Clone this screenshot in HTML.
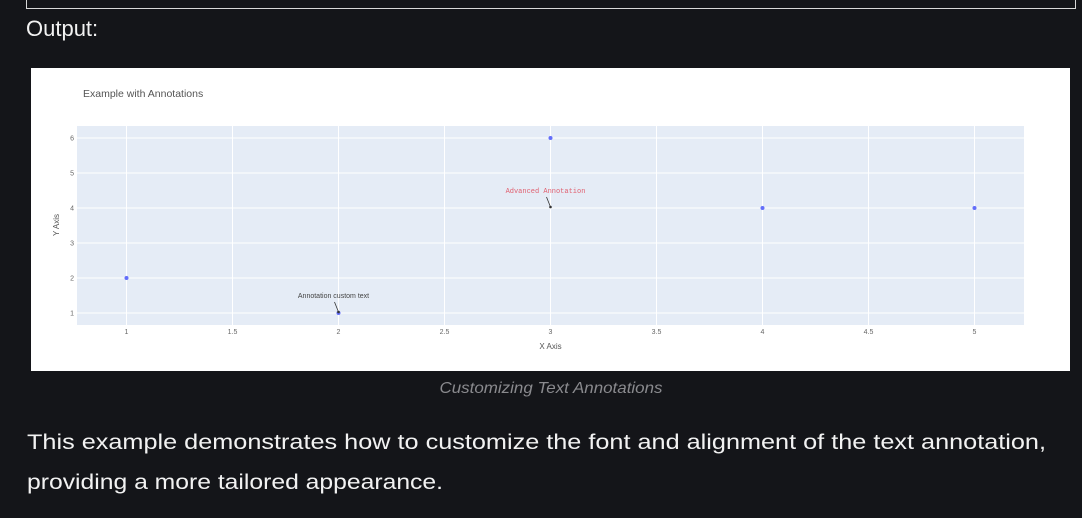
<!DOCTYPE html>
<html><head><meta charset="utf-8"><style>
body{margin:0;width:1082px;height:518px;background:#141519;overflow:hidden;position:relative;font-family:"Liberation Sans",sans-serif;color:#f2f2f2}
.abs{position:absolute}
</style></head><body>
<div class="abs" style="left:26px;top:-2px;width:1048px;height:10px;border:1px solid #d8d8d8;border-top:none"></div>
<div class="abs" style="left:26px;top:16px;font-size:22px">Output:</div>
<svg class="abs" style="left:31px;top:68px" width="1039" height="303">
<rect width="1039" height="303" fill="#fff"/>
<g id="plot" transform="translate(-31,-68)"></g>
</svg>
<svg class="abs" style="left:0;top:370px" width="1082" height="148">
<text x="551" y="23" text-anchor="middle" font-size="16" font-style="italic" fill="#8a8a8e" textLength="223" lengthAdjust="spacingAndGlyphs">Customizing Text Annotations</text>
<text x="27" y="79" font-size="21.5" fill="#f2f2f2" textLength="1019" lengthAdjust="spacingAndGlyphs">This example demonstrates how to customize the font and alignment of the text annotation,</text>
<text x="27" y="119" font-size="21.5" fill="#f2f2f2" textLength="416" lengthAdjust="spacingAndGlyphs">providing a more tailored appearance.</text>
</svg>
<script>
const xVals=[1,2,3,4,5];
const yVals=[2,1,6,4,4];
const xTicks=[1,1.5,2,2.5,3,3.5,4,4.5,5];
const yTicks=[1,2,3,4,5,6];
const annotations=[{x:2,y:1,text:"Annotation custom text",color:"#444",font:"Liberation Sans"},{x:3,y:4,text:"Advanced Annotation",color:"#e06070",font:"Liberation Mono"}];
const L=77,R=1024,T=126,B=325;
const sx=v=>126.5+(v-1)*212;
const sy=v=>313-(v-1)*35;
const NS="http://www.w3.org/2000/svg";
const g=document.getElementById('plot');
function mk(t,a,p){const e=document.createElementNS(NS,t);for(const k in a)e.setAttribute(k,a[k]);(p||g).appendChild(e);return e;}
const bg=mk('rect',{x:L,y:T,width:R-L,height:B-T,fill:'#e5ecf6'});


xTicks.forEach(v=>{const l=mk('line',{x1:sx(v),x2:sx(v),y1:T,y2:B,stroke:'#fff','stroke-width':1});


const t=mk('text',{x:sx(v),y:B+9,'text-anchor':'middle','font-size':7,fill:'#666'});t.textContent=v;

});
yTicks.forEach(v=>{const l=mk('line',{x1:L,x2:R,y1:sy(v),y2:sy(v),stroke:'#fff','stroke-width':1});


const t=mk('text',{x:L-3,y:sy(v)+2.5,'text-anchor':'end','font-size':7,fill:'#666'});t.textContent=v;

});
xVals.forEach((v,i)=>{const c=mk('circle',{cx:sx(v),cy:sy(yVals[i]),r:2,fill:'#636efa'});

});
annotations.forEach(a=>{const px=sx(a.x),py=sy(a.y);
const l=mk('line',{x1:px-4,y1:py-11,x2:px,y2:py-1,stroke:'#333','stroke-width':0.8});


mk('circle',{cx:px,cy:py-1,r:1.3,fill:'#333'});
const t=mk('text',{x:px-5,y:py-15,'text-anchor':'middle','font-size':7,fill:a.color,'font-family':a.font});t.textContent=a.text;

});
const ti=mk('text',{x:83,y:97,'font-size':10.5,fill:'#555'});ti.textContent='Example with Annotations';


const xt=mk('text',{x:sx(3),y:349,'text-anchor':'middle','font-size':8,fill:'#555'});xt.textContent='X Axis';


const yt=mk('text',{x:0,y:0,'text-anchor':'middle','font-size':8,fill:'#555',transform:'translate(59,225) rotate(-90)'});yt.textContent='Y Axis';


</script>
</body></html>
